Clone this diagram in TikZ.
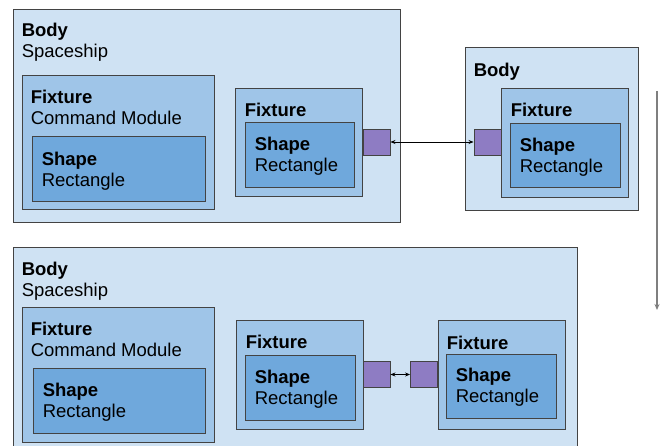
\documentclass[tikz,border=0pt]{standalone}
\usepackage{fontspec}
\setmainfont{Liberation Sans}
\definecolor{bodyblue}{HTML}{CFE2F3}
\definecolor{fixblue}{HTML}{9FC5E8}
\definecolor{shapeblue}{HTML}{6FA8DC}
\definecolor{jointpurple}{HTML}{8E7CC3}
\definecolor{edgegray}{HTML}{434343}
\definecolor{flowgray}{HTML}{7F7F7F}
\usetikzlibrary{arrows.meta,positioning,fit}

\begin{document}
\begin{tikzpicture}[x=1pt,y=-1pt,
  box/.style={draw=edgegray,line width=0.9pt,inner sep=0pt},
  bodybox/.style={box,fill=bodyblue},
  fixbox/.style={box,fill=fixblue},
  shapebox/.style={box,fill=shapeblue},
  joint/.style={draw=edgegray,line width=0.9pt,fill=jointpurple,inner sep=0pt,
    minimum width=27pt,minimum height=26pt},
  lbl/.style={inner sep=0pt,align=left,font=\fontsize{18.5}{21.5}\selectfont},
  link/.style={{Stealth[length=5pt,width=4pt]}-{Stealth[length=5pt,width=4pt]},line width=0.7pt},
  flow/.style={-{Stealth[length=6pt,width=5pt]},line width=1.6pt,flowgray}
]
  \useasboundingbox (0,0) rectangle (667,446);
  \clip (0,0) rectangle (667,446);

  % Top: spaceship and loose body
  \node[bodybox,fit={(13,9)(400,222)}] (ship1) {};
  \node[lbl,below right=14pt and 9pt of ship1.north west] (ship1t) {\textbf{Body}\\Spaceship};
  \node[fixbox,fit={(22,75)(214,209)}] (cmod1) {};
  \node[lbl,below right=15pt and 9pt of cmod1.north west] (cmod1t) {\textbf{Fixture}\\Command Module};
  \node[shapebox,fit={(32,136)(205,201)}] (cmods1) {};
  \node[lbl,below right=16pt and 10pt of cmods1.north west] (cmods1t) {\textbf{Shape}\\Rectangle};
  \node[fixbox,fit={(235,88)(362,196)}] (dock1) {};
  \node[lbl,below right=15pt and 10pt of dock1.north west] (dock1t) {\textbf{Fixture}};
  \node[shapebox,fit={(245,122)(354,187)}] (docks1) {};
  \node[lbl,below right=15pt and 10pt of docks1.north west] (docks1t) {\textbf{Shape}\\Rectangle};
  \node[joint] (j1) at (376.5,142) {};

  \node[bodybox,fit={(465,47)(638,210)}] (pod) {};
  \node[lbl,below right=16pt and 9pt of pod.north west] (podt) {\textbf{Body}};
  \node[fixbox,fit={(501,88)(628,197)}] (podfix) {};
  \node[lbl,below right=15pt and 10pt of podfix.north west] (podfixt) {\textbf{Fixture}};
  \node[shapebox,fit={(510,123)(620,187)}] (pods) {};
  \node[lbl,below right=15pt and 10pt of pods.north west] (podst) {\textbf{Shape}\\Rectangle};
  \node[joint] (j2) at (487.5,142) {};

  \draw[link] (j1.east) -- (j2.west);

  % Flow
  \coordinate (flowtop) at (657,91);
  \coordinate (flowend) at (657,310);
  \draw[flow] (flowtop) -- (flowend);

  % Bottom: docked
  \node[bodybox,fit={(13,247)(577,470)}] (ship2) {};
  \node[lbl,below right=15pt and 9pt of ship2.north west] (ship2t) {\textbf{Body}\\Spaceship};
  \node[fixbox,fit={(22,307)(214,442)}] (cmod2) {};
  \node[lbl,below right=15pt and 9pt of cmod2.north west] (cmod2t) {\textbf{Fixture}\\Command Module};
  \node[shapebox,fit={(33,368)(205,433)}] (cmods2) {};
  \node[lbl,below right=15pt and 10pt of cmods2.north west] (cmods2t) {\textbf{Shape}\\Rectangle};
  \node[fixbox,fit={(236,320)(363,429)}] (dock2) {};
  \node[lbl,below right=15pt and 10pt of dock2.north west] (dock2t) {\textbf{Fixture}};
  \node[shapebox,fit={(245,355)(355,420)}] (docks2) {};
  \node[lbl,below right=15pt and 10pt of docks2.north west] (docks2t) {\textbf{Shape}\\Rectangle};
  \node[joint] (j3) at (376.5,374.5) {};

  \node[fixbox,fit={(438,320)(565,429)}] (podfix2) {};
  \node[lbl,below right=16pt and 9pt of podfix2.north west] (podfix2t) {\textbf{Fixture}};
  \node[shapebox,fit={(446,354)(556,418)}] (pods2) {};
  \node[lbl,below right=14pt and 10pt of pods2.north west] (pods2t) {\textbf{Shape}\\Rectangle};
  \node[joint] (j4) at (424,374.5) {};

  \draw[link] (j3.east) -- (j4.west);
\end{tikzpicture}
\end{document}
